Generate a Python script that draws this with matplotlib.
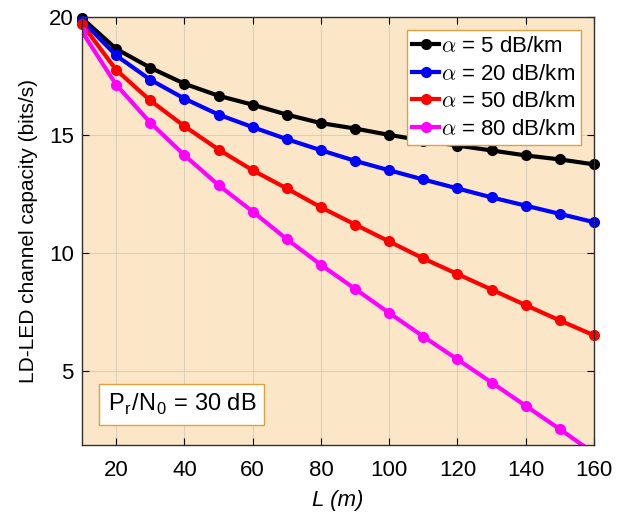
import numpy as np
import matplotlib.pyplot as plt

# Fibre length (m) and channel capacity (bits/s) for each attenuation
L = np.arange(10, 161, 10)
labels = [r"$\alpha$ = 5 dB/km", r"$\alpha$ = 20 dB/km",
          r"$\alpha$ = 50 dB/km", r"$\alpha$ = 80 dB/km"]
cap_5 = [19.95, 18.65, 17.85, 17.17, 16.66, 16.28, 15.86, 15.50,
         15.27, 15.00, 14.76, 14.55, 14.34, 14.13, 13.96, 13.75]
cap_20 = [19.85, 18.37, 17.34, 16.54, 15.86, 15.33, 14.82, 14.35,
          13.90, 13.50, 13.11, 12.73, 12.35, 12.00, 11.65, 11.30]
cap_50 = [19.70, 17.76, 16.46, 15.37, 14.38, 13.50, 12.73, 11.93,
          11.20, 10.48, 9.76, 9.10, 8.44, 7.78, 7.13, 6.50]
cap_80 = [19.38, 17.13, 15.52, 14.14, 12.87, 11.75, 10.58, 9.49,
          8.47, 7.45, 6.45, 5.48, 4.50, 3.51, 2.52, 1.50]
colors = ["black", "#0000ff", "#ff0000", "#ff00ff"]

plt.rcParams["font.family"] = ["Liberation Sans", "DejaVu Sans"]
plt.rcParams["mathtext.fontset"] = "cm"

fig = plt.figure(figsize=(6.33, 5.21), dpi=100)
ax = fig.add_axes([82 / 633, 1 - 445 / 521, 512 / 633, 428 / 521])
ax.set_facecolor("#fbe7c8")

for y, c, lab in zip([cap_5, cap_20, cap_50, cap_80], colors, labels):
    ax.plot(L, y, "-o", color=c, lw=3, ms=7, label=lab,
            clip_on=(c == "#ff00ff"))

ax.set_xlim(10, 160)
ax.set_ylim(1.85, 20)
ax.set_xticks(np.arange(20, 161, 20))
ax.set_yticks([5, 10, 15, 20])
ax.grid(True, color="#c8c0b0", lw=0.8, alpha=0.6)
ax.tick_params(direction="in", top=True, right=True, labelsize=16, length=5)
ax.tick_params(axis="x", pad=11)
ax.tick_params(axis="y", pad=6)
for s in ax.spines.values():
    s.set_color("#303030")
    s.set_linewidth(1.0)

ax.set_xlabel("L (m)", fontsize=16, style="italic", labelpad=6)
ax.set_ylabel("LD-LED channel capacity (bits/s)", fontsize=15, labelpad=8)

leg = ax.legend(loc="upper right", fontsize=16, handlelength=1.2,
                handletextpad=0.1, borderpad=0.25, labelspacing=0.3,
                borderaxespad=0.6, fancybox=False, framealpha=1)
leg.get_frame().set_edgecolor("#e0a040")
leg.get_frame().set_linewidth(1.0)

ax.text(0.05, 0.095, r"P$_\mathregular{r}$/N$_\mathregular{0}$ = 30 dB",
        transform=ax.transAxes, fontsize=17, va="center", ha="left",
        bbox=dict(boxstyle="square,pad=0.35", fc="white", ec="#e0a040", lw=1.0))

fig.savefig("out.png", dpi=100)
